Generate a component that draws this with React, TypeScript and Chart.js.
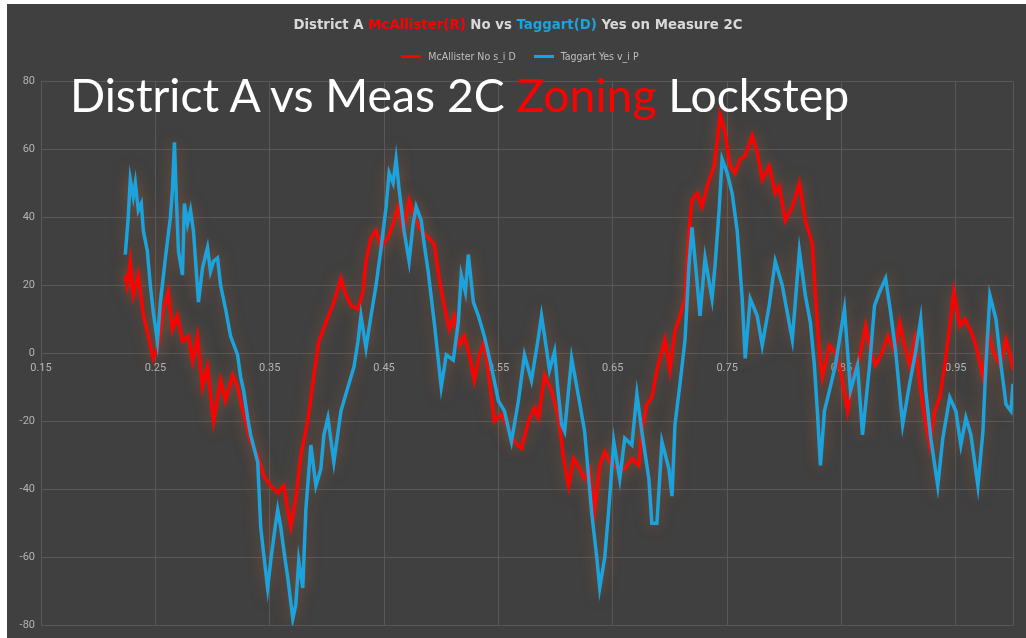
import React, { useEffect, useRef } from "react";
import { Chart, registerables } from "chart.js";

Chart.register(...registerables);

// ---------- data ----------
const X_MIN = 0.15;
const X_MAX = 1.0;
const X_TICKS = [0.15, 0.25, 0.35, 0.45, 0.55, 0.65, 0.75, 0.85, 0.95, 1.0];
const Y_MIN = -80;
const Y_MAX = 80;
const Y_STEP = 20;

const SERIES_NAMES = ["McAllister No s_i D", "Taggart Yes v_i P"];
const RED = "#ff0000";
const BLUE = "#1aa3dd";

// McAllister No (red)
const mcX = [
  0.2237, 0.2254, 0.2281, 0.2307, 0.2351, 0.2395, 0.2439, 0.2482, 0.2526, 0.257,
  0.2614, 0.2649, 0.2693, 0.2737, 0.2789, 0.2825, 0.2868, 0.2912, 0.2956, 0.3009,
  0.307, 0.3114, 0.3175, 0.3219, 0.3272, 0.3333, 0.3395, 0.3447, 0.3509, 0.357,
  0.3623, 0.3684, 0.3728, 0.3772, 0.3833, 0.3886, 0.393, 0.3991, 0.4061, 0.4123,
  0.4167, 0.4211, 0.4272, 0.4316, 0.4342, 0.4386, 0.443, 0.4474, 0.4535, 0.4579,
  0.4623, 0.4667, 0.4719, 0.4763, 0.4825, 0.4886, 0.4939, 0.4982, 0.5026, 0.507,
  0.5114, 0.5158, 0.5202, 0.5246, 0.5289, 0.5333, 0.5377, 0.5421, 0.5465, 0.5526,
  0.5588, 0.564, 0.5702, 0.5763, 0.5816, 0.5851, 0.5904, 0.5965, 0.6026, 0.607,
  0.6114, 0.6158, 0.6211, 0.6254, 0.6298, 0.6342, 0.6386, 0.643, 0.6491, 0.6553,
  0.6605, 0.6667, 0.6728, 0.6754, 0.6798, 0.6842, 0.6886, 0.6912, 0.6956, 0.7,
  0.7044, 0.7088, 0.7132, 0.7167, 0.7193, 0.7237, 0.7281, 0.7325, 0.7386, 0.7412,
  0.7439, 0.7482, 0.7526, 0.757, 0.7614, 0.7658, 0.7719, 0.7763, 0.7807, 0.7868,
  0.7921, 0.7956, 0.8009, 0.807, 0.8132, 0.8184, 0.8246, 0.8272, 0.8307, 0.8333,
  0.8395, 0.8439, 0.8491, 0.8553, 0.8596, 0.8658, 0.8711, 0.8754, 0.8798, 0.886,
  0.8904, 0.8965, 0.9009, 0.9053, 0.9096, 0.914, 0.9184, 0.9228, 0.9272, 0.9316,
  0.936, 0.9404, 0.9447, 0.9482, 0.9535, 0.9579, 0.9632, 0.9675, 0.9737, 0.9781,
  0.9825, 0.9886, 0.9939, 0.9982, 1.0,
];
const mcY = [
  23, 20, 27, 17, 23, 11, 5, -1.5, 2.3, 13,
  18, 7, 11, 3.5, 5, -2.3, 5, -10, -4, -20,
  -8, -14, -6.5, -10, -18, -26, -30, -36, -39, -41,
  -39, -51, -43, -30, -20, -6.5, 3.5, 9, 15, 22,
  17, 14, 13, 18, 27, 34, 36, 31, 34, 38,
  43, 36, 45, 40, 36, 34, 32, 22, 14, 7,
  11, 2.3, 5, -0.5, -8, -0.5, 3.5, -8, -20, -18,
  -22, -26, -28, -20, -16, -19, -6.5, -11, -19, -31,
  -39, -31, -34, -37, -34, -46, -33, -29, -33, -34,
  -34, -31, -33, -23, -15, -13, -5, -1.5, 4, -5,
  6.5, 11, 16, 36, 45, 47, 43, 49, 55, 62,
  70, 65, 55, 53, 57, 58, 64, 59, 51, 55,
  47, 49, 39, 43, 50, 39, 32, 17, 0.5, -7,
  2.3, 0.5, -5, -17, -7, -1.5, 8, 0.5, -3.5, 0.5,
  5, 0.5, 9, 2.3, -3.5, 4, -9, -19, -27, -17,
  -13, -3.5, 8, 18, 8, 10, 6.5, 2.3, -7, 6.5,
  0.5, -3.5, 4, -1.5, -5,
];

// Taggart Yes (blue)
const tgX = [
  0.2237, 0.2263, 0.2281, 0.2307, 0.2325, 0.2351, 0.2377, 0.2395, 0.243, 0.2456,
  0.2482, 0.2518, 0.2544, 0.2588, 0.2632, 0.2649, 0.2667, 0.2684, 0.2702, 0.2737,
  0.2754, 0.2781, 0.2807, 0.2833, 0.2877, 0.2912, 0.2956, 0.2982, 0.3009, 0.3044,
  0.307, 0.3114, 0.3158, 0.3219, 0.3246, 0.3272, 0.3307, 0.3333, 0.3395, 0.3421,
  0.3447, 0.3482, 0.3509, 0.3544, 0.357, 0.3596, 0.3632, 0.3658, 0.3702, 0.3728,
  0.3754, 0.3789, 0.3816, 0.386, 0.3904, 0.3947, 0.3974, 0.4009, 0.4061, 0.4123,
  0.4184, 0.4237, 0.4272, 0.4298, 0.4342, 0.4386, 0.443, 0.4474, 0.4518, 0.4544,
  0.4579, 0.4605, 0.4632, 0.4675, 0.4719, 0.4754, 0.4781, 0.4825, 0.4851, 0.4886,
  0.4939, 0.5, 0.5044, 0.5105, 0.5149, 0.5175, 0.5211, 0.5237, 0.5281, 0.5325,
  0.5377, 0.5439, 0.55, 0.5553, 0.5614, 0.5675, 0.5728, 0.5789, 0.5851, 0.5877,
  0.5904, 0.5947, 0.5991, 0.6018, 0.6053, 0.6079, 0.614, 0.6202, 0.6254, 0.6316,
  0.636, 0.6386, 0.643, 0.6465, 0.6509, 0.6561, 0.6605, 0.6667, 0.6711, 0.6754,
  0.6816, 0.6842, 0.6886, 0.693, 0.6991, 0.7018, 0.7044, 0.7088, 0.7132, 0.7167,
  0.7193, 0.7237, 0.7263, 0.7307, 0.7368, 0.7395, 0.743, 0.7456, 0.75, 0.7544,
  0.7588, 0.7632, 0.7658, 0.7702, 0.7763, 0.7807, 0.7868, 0.7921, 0.7982, 0.8026,
  0.807, 0.8132, 0.8184, 0.8228, 0.8263, 0.8289, 0.8316, 0.8351, 0.8395, 0.8447,
  0.8526, 0.8579, 0.864, 0.8684, 0.8746, 0.8789, 0.8833, 0.8886, 0.893, 0.8974,
  0.9035, 0.9096, 0.9149, 0.9193, 0.9237, 0.9281, 0.9342, 0.9386, 0.9447, 0.95,
  0.9544, 0.9588, 0.9632, 0.9693, 0.9737, 0.9763, 0.9798, 0.9851, 0.9895, 0.9939,
  0.9982, 1.0,
];
const tgY = [
  29, 40, 51, 46, 50, 42, 44, 36, 30, 20,
  12, 3.5, 15, 28, 40, 48, 62, 45, 30, 23,
  44, 38, 42, 36, 15, 25, 31, 24, 27, 28,
  20, 13, 5, -0.5, -7, -11, -19, -24, -32, -51,
  -59, -69, -61, -52, -46, -51, -60, -66, -78, -74,
  -61, -69, -46, -27, -39, -34, -24, -19, -32, -17,
  -10, -4, 3.5, 11, 1.5, 11, 20, 31, 43, 53,
  50, 57, 48, 36, 27, 38, 43, 39, 32, 24,
  9, -10, -0.5, -2, 9, 23, 18, 29, 15, 11,
  5, -4, -14, -17, -26, -14, -0.5, -8, 5, 11,
  5, -5, 0.5, -10, -21, -23, -1.5, -13, -23, -47,
  -60, -69, -60, -46, -26, -37, -25, -27, -12, -23,
  -37, -50, -50, -26, -34, -42, -21, -9, 4, 26,
  37, 21, 11, 28, 16, 26, 42, 57, 53, 47,
  36, 16, -1.5, 16, 11, 2.3, 14, 27, 20, 12,
  4, 30, 17, 9, -3.5, -17, -33, -17, -11, -3.5,
  13, -11, -3.5, -24, -3.5, 14, 18, 22, 12, 0.5,
  -21, -9, 0.5, 10, -11, -25, -39, -25, -13, -17,
  -27, -19, -24, -39, -23, -3.5, 17, 10, -3.5, -15,
  -17, -9,
];

// ---------- styling ----------
const BG = "#404040";
const GRID = "#585858";
const TICK = "#b4b4b4";
const NARROW = '"Liberation Sans Narrow", "DejaVu Sans Condensed", "Roboto Condensed", Arial, sans-serif';
const TICK_FONT = "Roboto, 'Liberation Sans', sans-serif";

const glowPlugin = {
  id: "glow",
  beforeDatasetDraw(chart: any) {
    const ctx = chart.ctx;
    ctx.save();
    ctx.shadowColor = "rgba(185,100,50,0.5)";
    ctx.shadowBlur = 14;
  },
  afterDatasetDraw(chart: any) {
    chart.ctx.restore();
  },
};

const bgPlugin = {
  id: "bg",
  beforeDraw(chart: any) {
    const ctx = chart.ctx;
    ctx.save();
    ctx.fillStyle = BG;
    ctx.fillRect(0, 0, chart.width, chart.height);
    ctx.restore();
  },
};

export default function App() {
  const ref = useRef<HTMLCanvasElement | null>(null);

  useEffect(() => {
    if (!ref.current) return;
    const toPts = (xs: number[], ys: number[]) => xs.map((x, i) => ({ x, y: ys[i] }));
    const chart = new Chart(ref.current, {
      type: "line",
      data: {
        datasets: [
          {
            label: SERIES_NAMES[0],
            data: toPts(mcX, mcY),
            borderColor: RED,
            backgroundColor: RED,
            borderWidth: 3.5,
            pointRadius: 0,
            tension: 0,
            order: 1,
          },
          {
            label: SERIES_NAMES[1],
            data: toPts(tgX, tgY),
            borderColor: BLUE,
            backgroundColor: BLUE,
            borderWidth: 3.5,
            pointRadius: 0,
            tension: 0,
            order: 0,
          },
        ],
      },
      options: {
        animation: false,
        responsive: false,
        maintainAspectRatio: false,
        layout: { padding: { top: 77, right: 13, bottom: 9, left: 0 } },
        plugins: {
          legend: { display: false },
          title: { display: false },
          tooltip: { enabled: false },
        },
        scales: {
          x: {
            type: "linear",
            min: X_MIN,
            max: X_MAX,
            position: { y: 0 } as any,
            afterBuildTicks: (scale: any) => {
              scale.ticks = X_TICKS.map((v) => ({ value: v }));
            },
            grid: { color: GRID, lineWidth: 1, drawTicks: false },
            border: { display: false },
            ticks: {
              autoSkip: false,
              maxRotation: 0,
              padding: 8,
              color: TICK,
              font: { family: TICK_FONT, size: 11 },
              callback: (v: any) => (Number(v) >= 0.999 ? "" : Number(v).toFixed(2)),
            },
          },
          y: {
            type: "linear",
            min: Y_MIN,
            max: Y_MAX,
            afterFit: (scale: any) => {
              scale.width = 34;
            },
            grid: { color: GRID, lineWidth: 1, drawTicks: false },
            border: { display: false },
            ticks: {
              stepSize: Y_STEP,
              padding: 6,
              color: TICK,
              font: { family: TICK_FONT, size: 11 },
            },
          },
        },
      },
      plugins: [bgPlugin, glowPlugin],
    });
    return () => chart.destroy();
  }, []);

  return (
    <div style={{ position: "fixed", left: 7, top: 4, width: 1019, height: 634, background: BG, overflow: "hidden" }}>
      <canvas ref={ref} width={1019} height={634} style={{ display: "block", width: 1019, height: 634 }} />
      <div
        style={{
          position: "absolute",
          left: 0,
          width: 1022,
          top: 11,
          textAlign: "center",
          fontFamily: NARROW,
          fontWeight: "bold",
          fontSize: 14.8,
          lineHeight: "18px",
          color: "#d9d9d9",
          whiteSpace: "nowrap",
        }}
      >
        District A <span style={{ color: RED }}>McAllister(R)</span> No vs{" "}
        <span style={{ color: BLUE }}>Taggart(D)</span> Yes on Measure 2C
      </div>
      <div
        style={{
          position: "absolute",
          left: 0,
          width: 1026,
          top: 45,
          display: "flex",
          justifyContent: "center",
          alignItems: "center",
          gap: 18,
          fontFamily: NARROW,
          fontSize: 10.5,
          lineHeight: "14px",
          color: "#bfbfbf",
          whiteSpace: "nowrap",
        }}
      >
        {SERIES_NAMES.map((n, i) => (
          <div key={n} style={{ display: "flex", alignItems: "center", gap: 7 }}>
            <span style={{ display: "inline-block", width: 20, height: 3, background: i === 0 ? RED : BLUE }} />
            <span>{n}</span>
          </div>
        ))}
      </div>
      <div
        style={{
          position: "absolute",
          left: 63,
          top: 67,
          fontFamily: "Lato, 'Open Sans', sans-serif",
          fontSize: 46.3,
          lineHeight: "46px",
          color: "#ffffff",
          whiteSpace: "nowrap",
        }}
      >
        District A vs Meas 2C <span style={{ color: RED }}>Zoning</span> Lockstep
      </div>
    </div>
  );
}
